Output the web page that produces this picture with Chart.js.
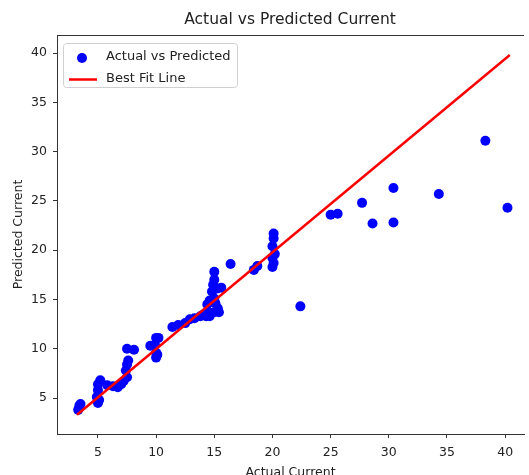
<!DOCTYPE html>
<html>
<head>
<meta charset="utf-8">
<script src="https://cdn.jsdelivr.net/npm/chart.js@4"></script>
<style>
  html, body { margin: 0; padding: 0; background: #fff; overflow: hidden; }
  #wrap { width: 529px; height: 475px; }
</style>
</head>
<body>
<div id="wrap"><canvas id="myChart"></canvas></div>
<script>
// Actual vs predicted current
const actualCurrent = [
  3.3, 3.4, 3.5, 4.9, 5.0, 5.1, 5.0, 5.0, 5.2, 5.8,
  6.3, 6.7, 7.0, 7.2, 7.5, 7.4, 7.5, 7.6, 7.5, 8.1,
  9.5, 9.9, 10.0, 10.2, 10.0, 10.0, 10.1, 11.4, 11.9, 12.5,
  12.9, 13.3, 13.8, 14.0, 14.3, 14.5, 14.6, 14.4, 14.6, 15.0,
  14.8, 15.2, 14.9, 15.0, 15.0, 15.1, 15.3, 15.0, 15.4, 15.6,
  16.4, 18.4, 18.7, 20.1, 20.1, 20.0, 20.2, 20.0, 20.1, 20.0,
  22.4, 25.0, 25.6, 27.7, 28.6, 30.4, 30.4, 34.3, 38.3, 40.2,
];
const predictedCurrent = [
  3.8, 4.2, 4.4, 5.1, 4.5, 4.8, 5.8, 6.4, 6.8, 6.3,
  6.2, 6.1, 6.4, 6.7, 7.1, 7.8, 8.4, 8.8, 10.0, 9.9,
  10.3, 10.4, 11.1, 11.1, 9.6, 9.1, 9.4, 12.2, 12.4, 12.6,
  13.0, 13.1, 13.3, 13.4, 13.3, 13.7, 13.3, 14.5, 14.9, 15.1,
  15.8, 16.1, 16.5, 17.0, 17.8, 14.6, 14.1, 13.7, 13.7, 16.2,
  18.6, 18.0, 18.4, 21.7, 21.2, 20.4, 19.6, 19.2, 18.7, 18.3,
  14.3, 23.6, 23.7, 24.8, 22.7, 26.3, 22.8, 25.7, 31.1, 24.3,
];
const fitX = [3.2, 40.4];
const fitY = [3.3, 39.8];
const tickValues = [5, 10, 15, 20, 25, 30, 35, 40];
const xRange = [1.48, 41.62];
const yRange = [1.35, 41.83];

const scatterPoints = actualCurrent.map((x, i) => ({ x: x, y: predictedCurrent[i] }));
const linePoints = fitX.map((x, i) => ({ x: x, y: fitY[i] }));

const FONT = 'DejaVu Sans';
const TEXT = '#222';

// title over the plot, top spine and the legend inside the axes
const framePlugin = {
  id: 'frame',
  afterDatasetsDraw(chart) {
    const { ctx, chartArea: a } = chart;
    ctx.save();
    ctx.strokeStyle = '#333';
    ctx.lineWidth = 1;
    ctx.beginPath();
    ctx.moveTo(a.left, a.top + 0.5);
    ctx.lineTo(a.right, a.top + 0.5);
    ctx.stroke();

    ctx.font = '15.5px ' + FONT;
    ctx.fillStyle = TEXT;
    ctx.textAlign = 'center';
    ctx.textBaseline = 'middle';
    ctx.fillText('Actual vs Predicted Current', 290, 20);

    // legend
    const x0 = 63.5, y0 = 43.5, w = 174, h = 44;
    ctx.fillStyle = 'rgba(255,255,255,0.85)';
    ctx.strokeStyle = '#d0d0d0';
    ctx.beginPath();
    ctx.roundRect(x0, y0, w, h, 3);
    ctx.fill();
    ctx.stroke();

    const ds = chart.data.datasets;
    ctx.font = '13px ' + FONT;
    ctx.fillStyle = TEXT;
    ctx.textAlign = 'left';
    ctx.fillText(ds[0].label, 106, 57);
    ctx.fillText(ds[1].label, 106, 79);

    ctx.fillStyle = ds[0].backgroundColor;
    ctx.beginPath();
    ctx.arc(82, 58, 5, 0, Math.PI * 2);
    ctx.fill();

    ctx.strokeStyle = ds[1].borderColor;
    ctx.lineWidth = 2.5;
    ctx.beginPath();
    ctx.moveTo(69, 79.5);
    ctx.lineTo(97, 79.5);
    ctx.stroke();
    ctx.restore();
  }
};

const axisCommon = {
  type: 'linear',
  afterBuildTicks: axis => { axis.ticks = tickValues.map(v => ({ value: v })); },
  grid: { display: true, drawOnChartArea: false, drawTicks: true, tickLength: 4, color: '#333' },
  border: { display: true, color: '#333', width: 1 },
};

new Chart(document.getElementById('myChart'), {
  type: 'scatter',
  data: {
    datasets: [
      {
        label: 'Actual vs Predicted',
        data: scatterPoints,
        backgroundColor: '#0000ff',
        borderColor: '#0000ff',
        pointRadius: 5,
        pointBorderWidth: 0,
        order: 2,
      },
      {
        label: 'Best Fit Line',
        data: linePoints,
        showLine: true,
        borderColor: '#ff0000',
        backgroundColor: '#ff0000',
        borderWidth: 2.5,
        pointRadius: 0,
        order: 1,
      },
    ]
  },
  options: {
    responsive: true,
    maintainAspectRatio: false,
    animation: false,
    layout: { padding: { left: 0, right: 0, top: 35, bottom: 0 } },
    plugins: {
      legend: { display: false },
      tooltip: { enabled: false },
      title: { display: false },
    },
    scales: {
      x: Object.assign({}, axisCommon, {
        min: xRange[0],
        max: xRange[1],
        afterFit: s => { s.height = 41; s.paddingLeft = 0; s.paddingRight = 0; },
        ticks: { font: { family: FONT, size: 12.5 }, color: TEXT, padding: 7, maxRotation: 0 },
        title: {
          display: true,
          text: 'Actual Current',
          color: TEXT,
          font: { family: FONT, size: 12.5 },
          padding: { top: 0, bottom: -5 },
        },
      }),
      y: Object.assign({}, axisCommon, {
        min: yRange[0],
        max: yRange[1],
        afterFit: s => { s.width = 57; s.paddingTop = 0; s.paddingBottom = 0; },
        ticks: { font: { family: FONT, size: 12.5 }, color: TEXT, padding: 6 },
        title: {
          display: true,
          text: 'Predicted Current',
          color: TEXT,
          font: { family: FONT, size: 12.5 },
          padding: { top: 11, bottom: 0 },
        },
      }),
    }
  },
  plugins: [framePlugin]
});
</script>
</body>
</html>
